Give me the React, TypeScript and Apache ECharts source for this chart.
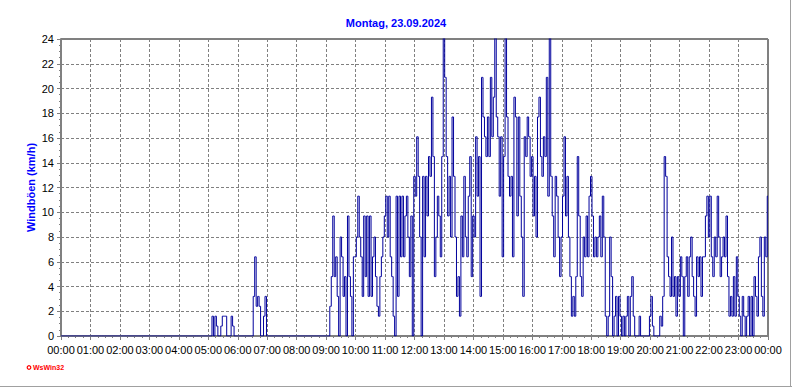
import React, { useEffect, useRef } from "react";
import * as echarts from "echarts";

// Chart texts
const titleText = "Montag, 23.09.2024";
const yAxisName = "Windböen (km/h)";
const creditText = "WsWin32";

// Tick labels
const xTickLabels = [
  "00:00", "01:00", "02:00", "03:00", "04:00", "05:00", "06:00", "07:00",
  "08:00", "09:00", "10:00", "11:00", "12:00", "13:00", "14:00", "15:00",
  "16:00", "17:00", "18:00", "19:00", "20:00", "21:00", "22:00", "23:00", "00:00",
];

// Gust values (km/h), one every 3 minutes, one array per hour
const sampleMinutes = 3;
const h00 = [0, 0, 0, 0, 0, 0, 0, 0, 0, 0, 0, 0, 0, 0, 0, 0, 0, 0, 0, 0];
const h01 = [0, 0, 0, 0, 0, 0, 0, 0, 0, 0, 0, 0, 0, 0, 0, 0, 0, 0, 0, 0];
const h02 = [0, 0, 0, 0, 0, 0, 0, 0, 0, 0, 0, 0, 0, 0, 0, 0, 0, 0, 0, 0];
const h03 = [0, 0, 0, 0, 0, 0, 0, 0, 0, 0, 0, 0, 0, 0, 0, 0, 0, 0, 0, 0];
const h04 = [0, 0, 0, 0, 0, 0, 0, 0, 0, 0, 0, 0, 0, 0, 0, 0, 0, 0, 0, 0];
const h05 = [0, 0, 0, 1.6, 0, 1.6, 0.8, 0, 0, 0.8, 1.6, 1.6, 1.6, 0, 0, 0, 1.6, 0.8, 0, 0];
const h06 = [0, 0, 0, 0, 0, 0, 0, 0, 0, 0, 0, 3.2, 6.4, 2.4, 3.2, 2.4, 0, 0, 1.6, 3.2];
const h07 = [0, 0, 0, 0, 0, 0, 0, 0, 0, 0, 0, 0, 0, 0, 0, 0, 0, 0, 0, 0];
const h08 = [0, 0, 0, 0, 0, 0, 0, 0, 0, 0, 0, 0, 0, 0, 0, 0, 0, 0, 0, 0];
const h09 = [0, 0, 0, 2.4, 4.8, 9.7, 4.8, 6.4, 3.2, 0, 8.0, 6.4, 3.2, 4.8, 0, 9.7, 4.8, 3.2, 0, 6.4];
const h10 = [6.4, 8.0, 11.3, 8.0, 6.4, 3.2, 9.7, 4.8, 9.7, 3.2, 9.7, 3.2, 6.4, 8.0, 4.8, 2.4, 1.6, 4.8, 6.4, 8.0];
const h11 = [9.7, 11.3, 8.0, 11.3, 6.4, 4.8, 1.6, 0, 11.3, 3.2, 11.3, 6.4, 11.3, 6.4, 9.7, 11.3, 8.0, 4.8, 9.7, 0];
const h12 = [12.9, 11.3, 16.1, 12.9, 8.0, 0, 12.9, 6.4, 12.9, 9.7, 14.5, 12.9, 19.3, 14.5, 4.8, 8.0, 11.3, 9.7, 6.4, 14.5];
const h13 = [24.1, 20.9, 14.5, 9.7, 12.9, 8.0, 17.7, 12.9, 8.0, 3.2, 4.8, 1.6, 9.7, 6.4, 12.9, 8.0, 6.4, 11.3, 14.5, 4.8];
const h14 = [9.7, 8.0, 16.1, 11.3, 14.5, 3.2, 20.9, 17.7, 16.1, 14.5, 17.7, 14.5, 20.9, 16.1, 19.3, 24.1, 17.7, 16.1, 11.3, 16.1];
const h15 = [6.4, 14.5, 24.1, 17.7, 12.9, 11.3, 12.9, 6.4, 19.3, 17.7, 9.7, 17.7, 11.3, 8.0, 3.2, 16.1, 14.5, 17.7, 16.1, 12.9];
const h16 = [14.5, 9.7, 12.9, 8.0, 17.7, 19.3, 14.5, 12.9, 16.1, 14.5, 20.9, 11.3, 24.1, 12.9, 9.7, 6.4, 12.9, 11.3, 8.0, 4.8];
const h17 = [8.0, 11.3, 16.1, 9.7, 12.9, 8.0, 4.8, 1.6, 3.2, 1.6, 4.8, 14.5, 9.7, 4.8, 3.2, 8.0, 6.4, 9.7, 6.4, 11.3];
const h18 = [12.9, 9.7, 6.4, 8.0, 6.4, 8.0, 9.7, 6.4, 11.3, 8.0, 1.6, 0, 1.6, 8.0, 4.8, 0, 1.6, 3.2, 0, 3.2];
const h19 = [1.6, 0, 1.6, 0, 1.6, 3.2, 0, 3.2, 4.8, 1.6, 0, 0, 0, 1.6, 0, 0, 0, 0, 0, 0];
const h20 = [1.6, 3.2, 0.8, 0, 0, 0, 0, 1.6, 0.8, 3.2, 14.5, 12.9, 6.4, 4.8, 3.2, 8.0, 3.2, 4.8, 1.6, 4.8];
const h21 = [3.2, 6.4, 4.8, 0, 4.8, 6.4, 3.2, 6.4, 8.0, 4.8, 3.2, 1.6, 6.4, 4.8, 6.4, 3.2, 6.4, 6.4, 9.7, 11.3];
const h22 = [8.0, 11.3, 6.4, 4.8, 8.0, 6.4, 11.3, 8.0, 4.8, 6.4, 8.0, 6.4, 9.7, 4.8, 1.6, 3.2, 1.6, 4.8, 1.6, 6.4];
const h23 = [3.2, 1.6, 0, 3.2, 1.6, 0, 1.6, 3.2, 0, 3.2, 0, 4.8, 3.2, 1.6, 6.4, 8.0, 3.2, 1.6, 8.0, 6.4];
const midnightValue = 11.3;

const hours = [h00, h01, h02, h03, h04, h05, h06, h07, h08, h09, h10, h11,
  h12, h13, h14, h15, h16, h17, h18, h19, h20, h21, h22, h23];

const FONT = "'Liberation Sans', Arial, sans-serif";

export default function App() {
  const ref = useRef<HTMLDivElement>(null);

  useEffect(() => {
    if (!ref.current) return;
    const chart = echarts.init(ref.current, null, { renderer: "svg" });

    const points: [number, number][] = hours
      .flat()
      .map((v, i) => [i * sampleMinutes, v] as [number, number]);
    points.push([24 * 60, midnightValue]);

    chart.setOption({
      animation: false,
      backgroundColor: "#ffffff",
      title: {
        text: titleText,
        left: "center",
        top: 12,
        textStyle: { color: "#0000ff", fontSize: 11, fontWeight: "bold", fontFamily: FONT },
      },
      grid: {
        left: 61,
        right: 24,
        top: 39,
        bottom: 51,
        show: true,
        backgroundColor: "#ffffff",
        borderColor: "#000000",
        borderWidth: 1,
      },
      xAxis: {
        type: "value",
        min: 0,
        max: 1440,
        interval: 60,
        axisLine: { show: true, lineStyle: { color: "#808080", width: 2 } },
        axisTick: { show: true, length: 4, lineStyle: { color: "#808080" } },
        minorTick: { show: true, splitNumber: 4, length: 2, lineStyle: { color: "#808080" } },
        splitLine: { show: true, lineStyle: { color: "#808080", type: [3, 2], width: 1 } },
        axisLabel: {
          color: "#000000",
          fontSize: 11,
          fontFamily: FONT,
          margin: 8,
          hideOverlap: false,
          formatter: (v: number) => xTickLabels[Math.round(v / 60)] ?? "",
        },
      },
      yAxis: {
        type: "value",
        min: 0,
        max: 24,
        interval: 2,
        name: yAxisName,
        nameLocation: "middle",
        nameGap: 25,
        nameMoveOverlap: false,
        nameTextStyle: { color: "#0000ff", fontSize: 11, fontWeight: "bold", fontFamily: FONT },
        axisLine: { show: true, lineStyle: { color: "#808080", width: 2 } },
        axisTick: { show: true, length: 4, lineStyle: { color: "#808080" } },
        minorTick: { show: true, splitNumber: 4, length: 2, lineStyle: { color: "#808080" } },
        splitLine: { show: true, lineStyle: { color: "#808080", type: [3, 2], width: 1 } },
        axisLabel: { color: "#000000", fontSize: 11, fontFamily: FONT, margin: 7 },
      },
      series: [
        {
          type: "line",
          data: points,
          step: "middle",
          showSymbol: false,
          clip: true,
          lineStyle: { color: "#00009c", width: 1 },
          itemStyle: { color: "#00009c" },
        },
      ],
      graphic: [
        { type: "line", shape: { x1: 0, y1: 386.5, x2: 792, y2: 386.5 }, style: { stroke: "#a0a0a0", lineWidth: 1 } },
        { type: "line", shape: { x1: 790.5, y1: 0, x2: 790.5, y2: 387 }, style: { stroke: "#a0a0a0", lineWidth: 1 } },
        { type: "circle", shape: { cx: 29, cy: 367.5, r: 1.8 }, style: { fill: "none", stroke: "#ff0000", lineWidth: 1.2 } },
        {
          type: "text",
          x: 33,
          y: 367.5,
          style: {
            text: creditText,
            fill: "#ff0000",
            font: "bold 7px " + FONT,
            textVerticalAlign: "middle",
          },
        },
      ],
    });

    return () => chart.dispose();
  }, []);

  return (
    <div
      ref={ref}
      style={{ position: "absolute", left: 0, top: 0, width: 792, height: 387 }}
    />
  );
}
